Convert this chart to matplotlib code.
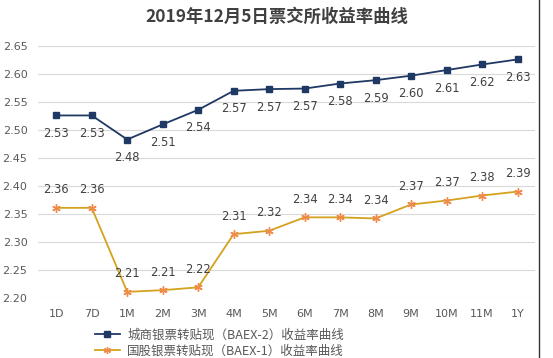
import matplotlib.pyplot as plt
from matplotlib.lines import Line2D

plt.rcParams['font.family'] = ['Noto Sans CJK SC', 'DejaVu Sans']

# data
tenors = ['1D', '7D', '1M', '2M', '3M', '4M', '5M', '6M', '7M', '8M', '9M', '10M', '11M', '1Y']
baex2 = [2.526, 2.526, 2.483, 2.510, 2.536, 2.570, 2.573, 2.574, 2.583, 2.589, 2.597, 2.607, 2.617, 2.626]
baex1 = [2.361, 2.361, 2.211, 2.214, 2.219, 2.314, 2.320, 2.344, 2.344, 2.342, 2.367, 2.374, 2.383, 2.390]
name2 = '城商银票转贴现（BAEX-2）收益率曲线'
name1 = '国股银票转贴现（BAEX-1）收益率曲线'
title = '2019年12月5日票交所收益率曲线'

navy = '#1f3864'
gold = '#d4a21c'
orange = '#f08a4b'
grey = '#595959'

fig = plt.figure(figsize=(5.53, 3.58), dpi=100)
ax = fig.add_axes([0.0696, 0.1676, 0.8984, 0.7039])

x = list(range(len(tenors)))
ax.plot(x, baex2, color=navy, lw=1.3, marker='s', ms=4.5, mfc=navy, mec=navy, zorder=3)
ax.plot(x, baex1, color=gold, lw=1.3, marker=(6, 2, 0), ms=6, mec=orange, mew=1.0, zorder=3)

for xi, v in zip(x, baex2):
    ax.annotate(f'{v:.2f}', (xi, v), xytext=(0, -13), textcoords='offset points',
                ha='center', va='center', fontsize=8.3, color='#404040', family=['DejaVu Sans'])
for xi, v in zip(x, baex1):
    ax.annotate(f'{v:.2f}', (xi, v), xytext=(0, 13), textcoords='offset points',
                ha='center', va='center', fontsize=8.3, color='#404040', family=['DejaVu Sans'])

ax.set_xlim(-0.5, len(tenors) - 0.5)
ax.set_ylim(2.20, 2.65)
ax.set_yticks([2.20 + 0.05 * i for i in range(10)])
ax.set_yticklabels([f'{2.20 + 0.05 * i:.2f}' for i in range(10)])
ax.set_xticks(x)
ax.set_xticklabels(tenors)
ax.tick_params(length=0, labelsize=8, colors=grey, pad=8)
for lab in ax.get_xticklabels() + ax.get_yticklabels():
    lab.set_family(['DejaVu Sans'])
ax.grid(axis='y', color='#d9d9d9', lw=0.8)
for s in ax.spines.values():
    s.set_visible(False)

fig.text(0.5, 0.952, title, ha='center', va='center', fontsize=12.5, fontweight='bold', color='#404040')

handles = [Line2D([], [], color=navy, lw=1.3, marker='s', ms=4, mfc=navy, mec=navy),
           Line2D([], [], color=gold, lw=1.3, marker=(6, 2, 0), ms=5, mec=orange)]
fig.legend(handles, [name2, name1], loc='upper left', bbox_to_anchor=(0.16, 0.1),
           frameon=False, fontsize=9, labelcolor=grey, handlelength=2.0,
           handletextpad=0.6, labelspacing=0.25, borderpad=0)

fig.add_artist(Line2D([0.975, 0.975], [0.0, 1.0], color='#333333', lw=1.0))

fig.savefig('out.png', dpi=100)
